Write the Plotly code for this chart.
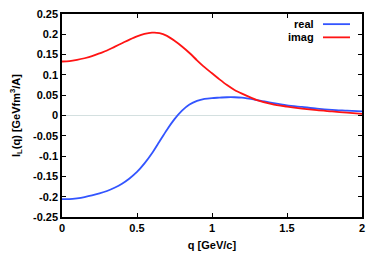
import plotly.graph_objects as go

q = [0.0, 0.05, 0.1, 0.15, 0.2, 0.25, 0.3, 0.35, 0.4, 0.45, 0.5, 0.55, 0.6, 0.65, 0.7, 0.75, 0.8,
     0.85, 0.9, 0.95, 1.0, 1.05, 1.1, 1.15, 1.2, 1.3, 1.4, 1.5, 1.6, 1.7, 1.8, 1.9, 2.0]
real = [-0.206, -0.206, -0.204, -0.201, -0.197, -0.192, -0.186, -0.178, -0.168, -0.155, -0.139, -0.118,
        -0.093, -0.064, -0.035, -0.009, 0.012, 0.027, 0.036, 0.041, 0.043, 0.044, 0.045, 0.045, 0.044,
        0.038, 0.031, 0.025, 0.021, 0.017, 0.014, 0.012, 0.010]
imag = [0.133, 0.134, 0.137, 0.141, 0.146, 0.153, 0.160, 0.169, 0.178, 0.187, 0.195, 0.201,
        0.204, 0.203, 0.196, 0.184, 0.170, 0.154, 0.136, 0.119, 0.104, 0.089, 0.075, 0.063, 0.054,
        0.038, 0.028, 0.022, 0.017, 0.013, 0.010, 0.007, 0.004]
names = ["real", "imag"]
colors = ["#3355ff", "#ff1414"]

FONT = "Liberation Sans, Arial, sans-serif"

fig = go.Figure()
for name, ys, c in zip(names, [real, imag], colors):
    fig.add_trace(go.Scatter(x=q, y=ys, mode="lines", name=name,
                             line=dict(color=c, width=1.8, shape="spline", smoothing=0.8),
                             showlegend=False))

# legend drawn manually (text left of sample line, gnuplot style)
for i, (name, c) in enumerate(zip(names, colors)):
    yp = 0.95 - i * 0.065
    fig.add_annotation(x=0.847, y=yp, xref="paper", yref="paper", text="<b>%s</b>" % name,
                       showarrow=False, xanchor="right", yanchor="middle",
                       font=dict(family=FONT, size=11, color="black"))
    fig.add_shape(type="line", xref="paper", yref="paper", x0=0.87, x1=0.96, y0=yp, y1=yp,
                  line=dict(color=c, width=1.8))

axis_common = dict(showgrid=False, showline=True, linecolor="black", linewidth=1.5,
                   mirror="ticks", ticks="inside", ticklen=4, tickcolor="black", automargin=False,
                   ticklabeloverflow="allow",
                   tickfont=dict(family=FONT, size=11, color="black", weight="bold"))

fig.update_xaxes(range=[0, 2], tickvals=[0, 0.5, 1, 1.5, 2], ticktext=["0", "0.5", "1", "1.5", "2"],
                 zeroline=False,
                 title=dict(text="<b>q [GeV/c]</b>", font=dict(family=FONT, size=11, color="black"), standoff=8),
                 **axis_common)
fig.update_yaxes(range=[-0.25, 0.25], tickvals=[-0.25, -0.2, -0.15, -0.1, -0.05, 0, 0.05, 0.1, 0.15, 0.2, 0.25],
                 ticktext=["-0.25", "-0.2", "-0.15", "-0.1", "-0.05", "0", "0.05", "0.1", "0.15", "0.2", "0.25"],
                 zeroline=True, zerolinecolor="#d4e0e0", zerolinewidth=1,
                 title=dict(text="<b>I<sub>L</sub>(q) [GeVfm<sup>3</sup>/A]</b>", font=dict(family=FONT, size=11, color="black"), standoff=15),
                 **axis_common)

# page body has an 8px default margin, so the figure is sized/margined to compensate
fig.update_layout(width=373, height=252, margin=dict(l=54, r=19, t=6, b=43),
                  plot_bgcolor="white", paper_bgcolor="white", showlegend=False)

fig.write_html("out.html")
